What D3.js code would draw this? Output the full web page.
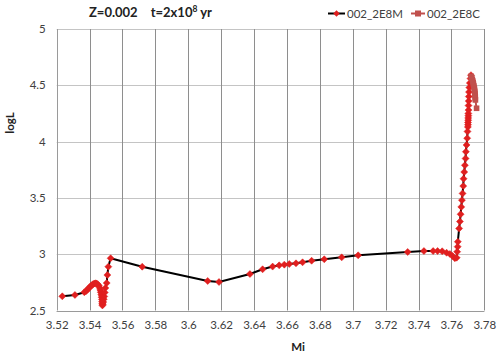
<!DOCTYPE html>
<html><head><meta charset="utf-8">
<script src="https://cdn.jsdelivr.net/npm/d3@7"></script>
<style>body{margin:0;background:#fff}svg{display:block}</style>
</head><body>
<script>
const xTicks=[3.52,3.54,3.56,3.58,3.6,3.62,3.64,3.66,3.68,3.7,3.72,3.74,3.76,3.78];
const yTicks=[2.5,3,3.5,4,4.5,5];
const seriesNames=["002_2E8M","002_2E8C"];
const mX=[3.5234,3.5311,3.5368,3.5378,3.5386,3.5393,3.5400,3.5408,3.5415,3.5422,3.5430,3.5437,3.5444,3.5450,3.5456,3.5461,3.5465,3.5468,3.5471,3.5473,3.5475,3.5476,3.5477,3.5478,3.5480,3.5483,3.5486,3.5489,3.5492,3.5496,3.5504,3.5508,3.5514,3.5528,
3.5720,3.6118,3.6187,3.6375,3.6452,3.6513,3.6553,3.6584,3.6614,3.6655,3.6695,3.6750,3.6827,3.6933,3.7033,3.7334,3.7433,3.7489,3.7516,3.7544,3.7571,3.7591,3.7607,3.7621,3.7632,3.7635,3.7638,3.7639,
3.7647,3.7652,3.7656,3.7660,3.7664,3.7668,3.7672,3.7674,3.7678,3.7682,3.7686,3.7688,3.7692,3.7696,3.7698,3.7700,3.7701,3.7701,3.7702,3.7702,3.7703,3.7703,3.7704,3.7704,3.7705,3.7706,3.7707,3.7709,3.7712,3.7716,3.7719];
const mY=[2.626,2.638,2.662,2.672,2.684,2.695,2.706,2.718,2.727,2.735,2.740,2.742,2.739,2.732,2.720,2.703,2.683,2.662,2.640,2.618,2.598,2.578,2.560,2.545,2.555,2.575,2.600,2.625,2.660,2.700,2.744,2.815,2.889,2.964,
2.889,2.762,2.753,2.824,2.866,2.890,2.901,2.907,2.913,2.919,2.928,2.942,2.955,2.972,2.990,3.020,3.028,3.028,3.028,3.026,3.013,3.002,2.984,2.964,2.969,3.022,3.067,3.111,
3.229,3.290,3.355,3.420,3.480,3.540,3.605,3.670,3.730,3.790,3.850,3.910,3.970,4.030,4.090,4.130,4.150,4.170,4.190,4.210,4.230,4.250,4.280,4.320,4.360,4.400,4.440,4.480,4.520,4.560,4.590];
const cX=[3.7720,3.7724,3.7727,3.7730,3.7732,3.7734,3.7736,3.7738,3.7740,3.7741,3.7742,3.7743,3.7744,3.7745,3.7745,3.7746,3.7753];
const cY=[4.580,4.566,4.552,4.538,4.524,4.510,4.496,4.482,4.468,4.454,4.440,4.426,4.412,4.398,4.384,4.370,4.296];

const W=500,H=356;
const svg=d3.select("body").append("svg").attr("width",W).attr("height",H);
const font="Lato, 'Open Sans', sans-serif";
const x=d3.scaleLinear().domain([3.52,3.78]).range([56.7,484.3]);
const y=d3.scaleLinear().domain([2.5,5]).range([310.5,29]);

svg.append("g").selectAll("line").data(yTicks).join("line")
 .attr("x1",x(3.52)).attr("x2",x(3.78)).attr("y1",d=>Math.round(y(d))+0.5).attr("y2",d=>Math.round(y(d))+0.5)
 .attr("stroke","#c4c4c4").attr("stroke-width",1);
svg.append("g").selectAll("line").data(xTicks).join("line")
 .attr("y1",y(5)).attr("y2",y(2.5)).attr("x1",d=>Math.round(x(d))+0.5).attr("x2",d=>Math.round(x(d))+0.5)
 .attr("stroke",d=>d===3.52?"#9a9a9a":"#8e8e8e").attr("stroke-width",1);
svg.append("line").attr("x1",x(3.52)).attr("x2",x(3.78)).attr("y1",Math.round(y(2.5))+0.5).attr("y2",Math.round(y(2.5))+0.5).attr("stroke","#9a9a9a");

const xAxis=d3.axisBottom(x).tickValues(xTicks).tickSize(0).tickPadding(10).tickFormat(d=>String(+d.toFixed(2)));
const gx=svg.append("g").attr("transform",`translate(0,${y(2.5)})`).call(xAxis);
gx.select(".domain").remove();
gx.selectAll("text").attr("font-family",font).attr("font-size",11.5).attr("fill","#404040");
const yAxis=d3.axisLeft(y).tickValues(yTicks).tickSize(0).tickPadding(11).tickFormat(d=>String(d));
const gy=svg.append("g").attr("transform",`translate(${x(3.52)},0)`).call(yAxis);
gy.select(".domain").remove();
gy.selectAll("text").attr("font-family",font).attr("font-size",11.5).attr("fill","#404040");

svg.append("text").attr("x",298).attr("y",351).attr("text-anchor","middle").attr("font-family",font).attr("font-size",11.5).attr("font-weight","bold").attr("fill","#222").text("Mi");
svg.append("text").attr("transform","translate(14,123) rotate(-90)").attr("text-anchor","middle").attr("font-family",font).attr("font-size",11.5).attr("font-weight","bold").attr("fill","#222").text("logL");

const t=svg.append("text").attr("x",89).attr("y",17).attr("font-family",font).attr("font-size",13).attr("font-weight","bold").attr("fill","#222");
t.append("tspan").text("Z=0.002");
t.append("tspan").attr("dx",13).text("t=2x10");
t.append("tspan").attr("dy",-5).attr("font-size",8.5).text("8");
t.append("tspan").attr("dy",5).text(" yr");

const mData=mX.map((v,i)=>[v,mY[i]]);
const cData=cX.map((v,i)=>[v,cY[i]]);
const line=d3.line().x(d=>x(d[0])).y(d=>y(d[1]));
const diamond=(cx,cy,r)=>`M${cx},${cy-r}L${cx+r},${cy}L${cx},${cy+r}L${cx-r},${cy}Z`;
const red="#e01f1f", cCol="#c0504d";

svg.append("path").attr("d",line(mData)).attr("fill","none").attr("stroke","#000").attr("stroke-width",2);
svg.append("g").selectAll("path").data(mData).join("path")
 .attr("d",d=>diamond(x(d[0]),y(d[1]),3.5)).attr("fill",red).attr("stroke",red).attr("stroke-width",0.5);

svg.append("path").attr("d",line(cData)).attr("fill","none").attr("stroke",cCol).attr("stroke-width",2);
svg.append("g").selectAll("rect").data(cData).join("rect")
 .attr("x",d=>x(d[0])-2.8).attr("y",d=>y(d[1])-2.8).attr("width",5.6).attr("height",5.6).attr("fill",cCol);

const lg=svg.append("g");
lg.append("line").attr("x1",328).attr("x2",345).attr("y1",13.5).attr("y2",13.5).attr("stroke","#000").attr("stroke-width",2);
lg.append("path").attr("d",diamond(336.5,13.5,3.2)).attr("fill",red);
lg.append("text").attr("x",347).attr("y",17.5).attr("font-family",font).attr("font-size",11.5).attr("fill","#404040").text(seriesNames[0]);
lg.append("line").attr("x1",411).attr("x2",425).attr("y1",13.5).attr("y2",13.5).attr("stroke",cCol).attr("stroke-width",2);
lg.append("rect").attr("x",415).attr("y",10.5).attr("width",6).attr("height",6).attr("fill",cCol);
lg.append("text").attr("x",427).attr("y",17.5).attr("font-family",font).attr("font-size",11.5).attr("fill","#404040").text(seriesNames[1]);
</script>
</body></html>
